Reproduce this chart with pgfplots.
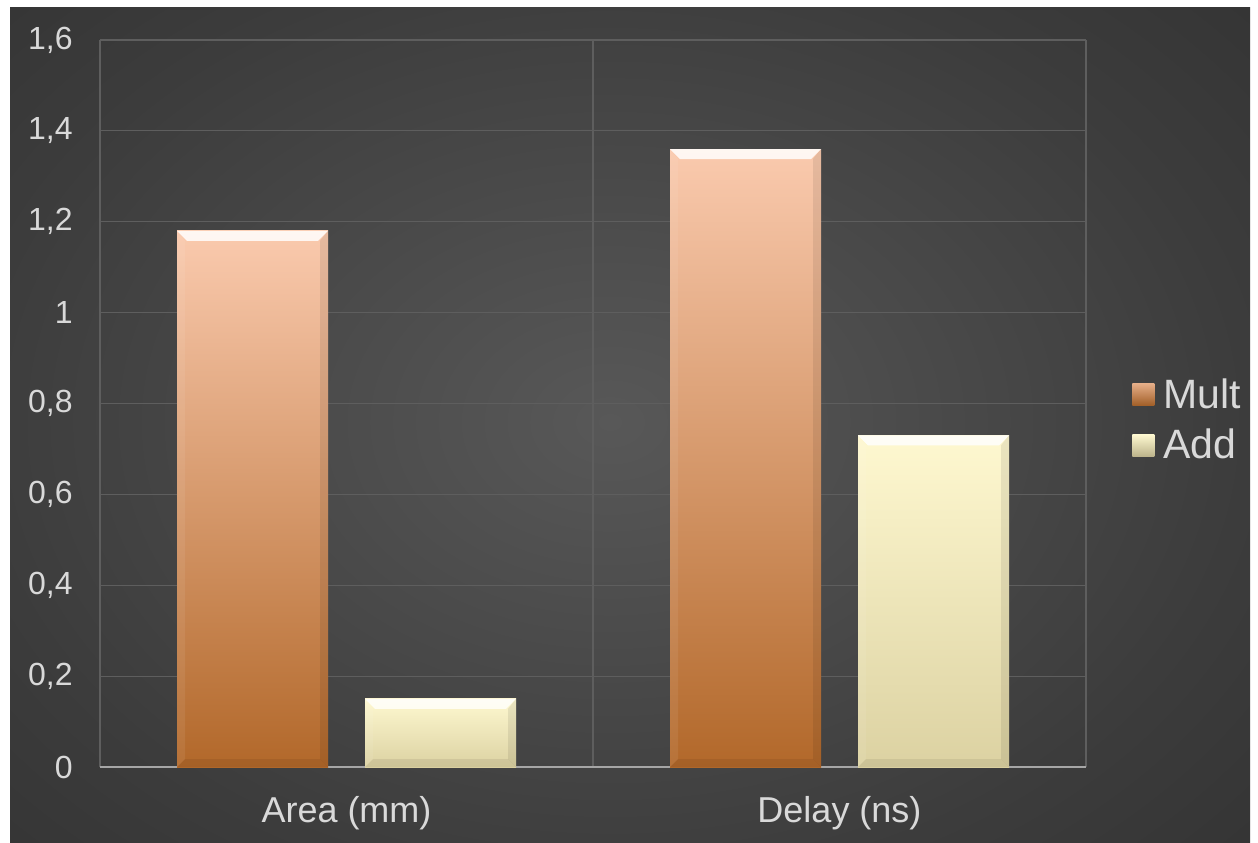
\documentclass[border=0pt]{standalone}
\usepackage{fontspec}
\setmainfont{Liberation Sans}
\usepackage{pgfplots}
\pgfplotsset{compat=1.18}
\definecolor{txt}{HTML}{D9D9D9}
\definecolor{gridc}{HTML}{5E5E5E}
\definecolor{axisc}{HTML}{A6A6A6}
\definecolor{multTop}{HTML}{FACAAE}
\definecolor{multBot}{HTML}{B2682A}
\definecolor{addTop}{HTML}{FEF8D0}
\definecolor{addBot}{HTML}{DCD2A2}
\definecolor{bgA}{HTML}{585858}
\definecolor{bgB}{HTML}{3C3C3C}
\definecolor{bgC}{HTML}{272727}
\pgfdeclareradialshading{bgshade}{\pgfpoint{0bp}{0bp}}{color(0bp)=(bgA); color(25bp)=(bgB); color(50bp)=(bgC); color(75bp)=(bgC)}
\tikzset{
  bevel/.style={path picture={
  \path[path picture={}, top color=white, bottom color=white!85!yellow, fill opacity=0.85] (path picture bounding box.north west) -- (path picture bounding box.north east) -- ([xshift=-5pt,yshift=-5pt]path picture bounding box.north east) -- ([xshift=5pt,yshift=-5pt]path picture bounding box.north west) -- cycle;
  \path[path picture={}, top color=white, bottom color=white, fill opacity=0.07] (path picture bounding box.north west) -- ([xshift=4pt,yshift=-5pt]path picture bounding box.north west) -- ([xshift=4pt,yshift=4pt]path picture bounding box.south west) -- (path picture bounding box.south west) -- cycle;
  \path[path picture={}, top color=black, bottom color=black, fill opacity=0.08] (path picture bounding box.north east) -- ([xshift=-4pt,yshift=-5pt]path picture bounding box.north east) -- ([xshift=-4pt,yshift=4pt]path picture bounding box.south east) -- (path picture bounding box.south east) -- cycle;
  \path[path picture={}, top color=black, bottom color=black, fill opacity=0.07] (path picture bounding box.south west) -- ([xshift=4pt,yshift=4pt]path picture bounding box.south west) -- ([xshift=-4pt,yshift=4pt]path picture bounding box.south east) -- (path picture bounding box.south east) -- cycle;
}}}
\pgfplotsset{
  multstyle/.style={draw=none, top color=multTop, bottom color=multBot, bevel,
    legend image code/.code={\shade[path picture={}, top color=multTop!70!multBot, bottom color=multBot!90!black] (0pt,-5.5pt) rectangle (11pt,5.5pt);}},
  addstyle/.style={draw=none, top color=addTop, bottom color=addBot, bevel,
    legend image code/.code={\shade[path picture={}, top color=addTop, bottom color=addBot!85!black] (0pt,-5.5pt) rectangle (11pt,5.5pt);}},
}
\begin{document}
\begin{tikzpicture}
\useasboundingbox (0,0) rectangle (629pt,421pt);
\fill[white] (0,0) rectangle (629pt,421pt);
\begin{scope}
\clip (5pt,0pt) rectangle (629pt,417pt);
\shade[shading=bgshade] (-15pt,-25pt) rectangle (625pt,445pt);
\end{scope}
\begin{axis}[
  at={(50pt,37.5pt)}, anchor=south west, scale only axis,
  width=493pt, height=363.5pt,
  ymin=0, ymax=1.6,
  ytick={0,0.2,0.4,0.6,0.8,1,1.2,1.4,1.6},
  xmin=-0.5, xmax=1.5,
  xtick={0,1}, xticklabels={Area (mm), Delay (ns)},
  minor xtick={-0.5,0.5,1.5},
  xminorgrids=true, ymajorgrids=true,
  grid style={gridc, line width=0.6pt},
  minor grid style={gridc, line width=0.6pt},
  axis line style={draw=none},
  major tick length=0pt, minor tick length=0pt,
  extra y ticks={0}, extra y tick labels={},
  extra y tick style={grid style={axisc, line width=1pt}},
  tick label style={font=\fontsize{16}{19}\selectfont, text=txt},
  /pgf/number format/.cd, use comma, fixed, precision=1, assume math mode=true, /pgfplots/.cd,
  yticklabel style={inner sep=0pt, xshift=-13.5pt},
  xticklabel style={inner sep=0pt, yshift=-14.5pt, font=\fontsize{18}{22}\selectfont},
  ybar, bar width=75.5pt,
  legend style={at={(1.0405,0.477)}, anchor=west, draw=none, fill=none, text=txt,
    font=\fontsize{20.5}{24}\selectfont, row sep=5pt, column sep=2.5pt},
  legend cell align=left,
]
\addplot[multstyle, bar shift=-47pt] coordinates {(0,1.18)};
\addplot[addstyle, bar shift=47pt] coordinates {(0,0.15)};
\addplot[multstyle, bar shift=-47pt, forget plot] coordinates {(1,1.36)};
\addplot[addstyle, bar shift=47pt, forget plot] coordinates {(1,0.73)};
\legend{Mult, Add}
\end{axis}
\end{tikzpicture}
\end{document}
